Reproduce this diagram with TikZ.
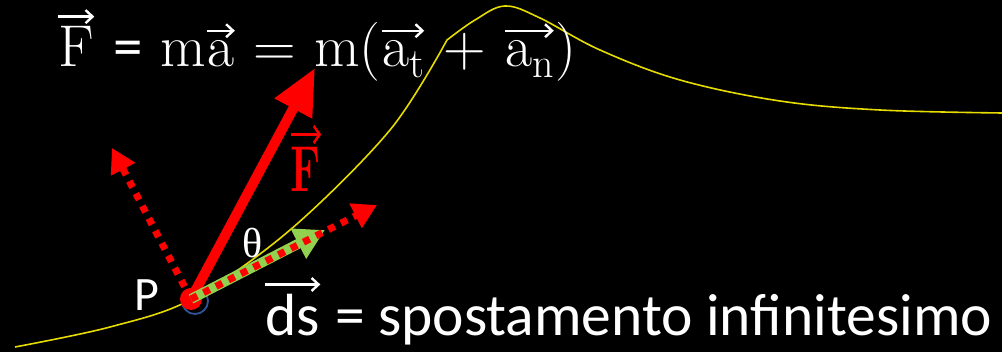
\RequirePackage{fix-cm}
\documentclass[tikz,border=0pt]{standalone}
\usepackage{fontspec}
\newfontfamily\calfont{Carlito}
\newfontfamily\grfont{Liberation Serif}
\usetikzlibrary{arrows.meta}
\definecolor{curveyel}{RGB}{230,220,0}
\definecolor{vecred}{RGB}{255,0,0}
\definecolor{vecgreen}{RGB}{146,208,80}
\definecolor{ptblue}{RGB}{47,85,151}
\newcommand\ovec[2][white]{\tikz[baseline=(v.base)]{\node[inner sep=0pt, text=#1](v){#2};%
  \draw[#1, line width=2.4pt, -{Straight Barb[length=7pt,width=13pt]}]([yshift=10pt]v.north west)--([yshift=10pt]v.north east);}}
\newcommand\subtxt[1]{\raisebox{-11pt}{\fontsize{42}{44}\selectfont #1}}
\tikzset{
  curve/.style={curveyel, line width=1.6pt},
  forcevec/.style={vecred, line width=10pt, -{Triangle[length=46pt,width=40pt]}, shorten <=2pt},
  dotvec/.style={vecred, line width=7pt, dash pattern=on 7pt off 7pt, -{Triangle[length=24pt,width=26pt]}},
  dsvec/.style={vecgreen, line width=10pt, -{Triangle[length=30pt,width=32pt]}},
  wtext/.style={text=white, inner sep=0pt},
}
\begin{document}
\begin{tikzpicture}[x=1pt,y=-1pt]
\fill[black] (0,0) rectangle (1002,352);
\useasboundingbox (0,0) rectangle (1002,352);
% curve
\draw[curve] plot[smooth, tension=0.55] coordinates {(15,347) (110,327) (192,299) (290,230) (390,130) (447,40)}
  plot[smooth, tension=0.6] coordinates {(447,40) (475,20) (505,6) (540,18) (600,50) (680,80) (780,101) (880,110) (1002,113)};
% point P
\node[draw=ptblue, line width=1.8pt, circle, minimum size=26pt, inner sep=0pt] (Pb) at (195,301) {};
\node[fill=vecred, circle, minimum size=22pt, inner sep=0pt] (P) at (191,299) {};
% vector tips
\coordinate (Ftip) at (315,68);
\coordinate (Ntip) at (112,148);
\coordinate (Ttip) at (377,205);
\coordinate (Dtip) at (325,230);
% vectors
\draw[forcevec] (P.center) -- (Ftip);
\draw[dotvec] (P.center) -- (Ntip);
\draw[dsvec] (P.center) -- (Dtip);
\draw[dotvec] (P.center) -- (Ttip);
% labels
\node[wtext, anchor=base west] (eq) at (57,67) {\fontsize{59}{68}\selectfont
  \ovec{F} {\calfont =} m\ovec{a} = m(\ovec{a\subtxt{t}} + \ovec{a\subtxt{n}})};
\node[text=vecred, inner sep=0pt, anchor=base] (Flab) at (306,192) {\scalebox{0.85}[1.3]{\fontsize{50}{56}\selectfont\bfseries\ovec[vecred]{F}}};
\node[wtext] (theta) at (253,243) {\grfont\fontsize{42}{48}\selectfont θ};
\node[wtext] (Plab) at (147,295) {\calfont\fontsize{48}{52}\selectfont P};
\node[wtext, anchor=base west] (ds) at (264,336) {\calfont\fontsize{59.5}{66}\selectfont \ovec{ds} = spostamento infinitesimo};
\end{tikzpicture}
\end{document}
